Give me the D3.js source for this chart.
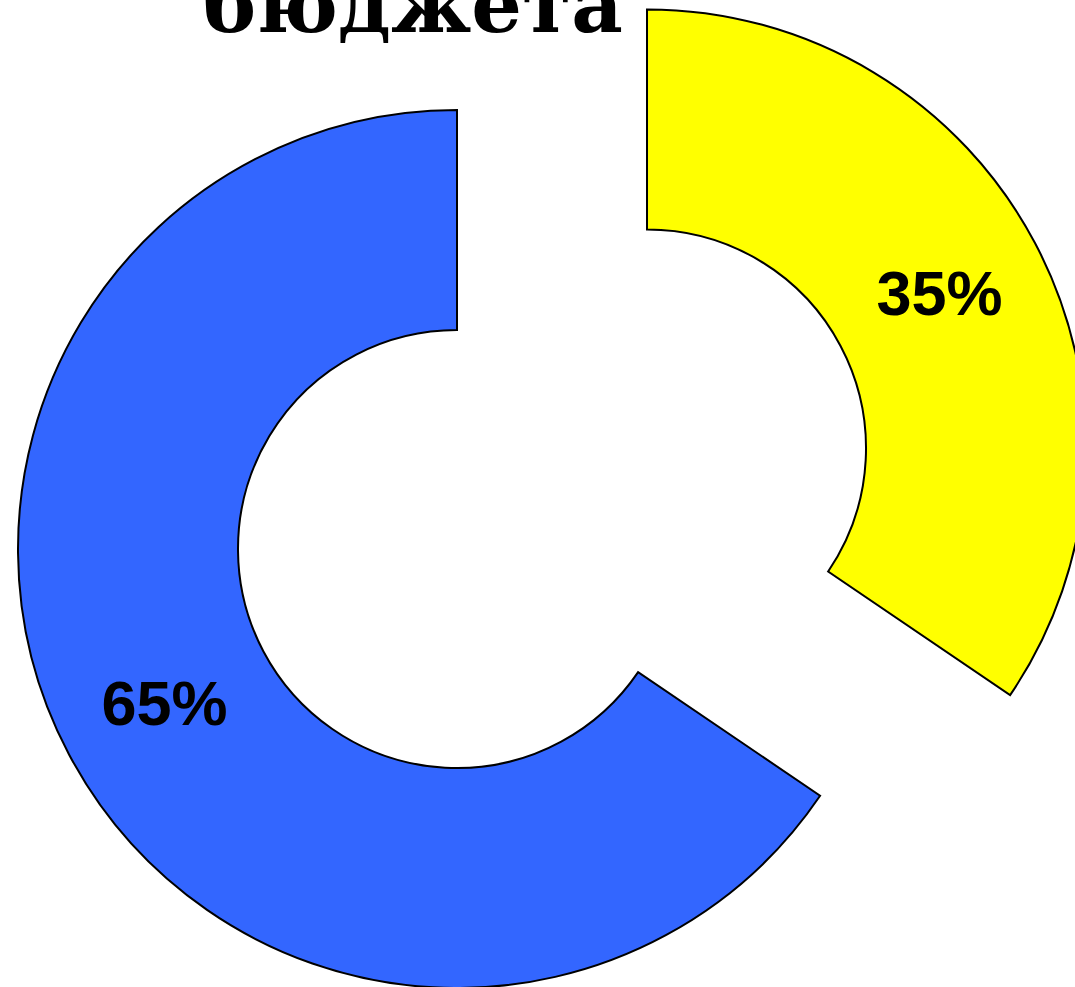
<!DOCTYPE html>
<html>
<head>
<meta charset="utf-8">
<script src="https://cdn.jsdelivr.net/npm/d3@7"></script>
<style>
  html, body { margin: 0; padding: 0; background: #fff; overflow: hidden; }
  svg { display: block; }
</style>
</head>
<body>
<svg id="chart"></svg>
<script>
const width = 1075;
const height = 987;

// title is cut off at the top of the picture
const titleText = "бюджета";
const categories = ["share A", "share B"];
const values = [34.5, 65.5];
const labels = ["35%", "65%"];
const colors = ["#ffff00", "#3366ff"];
const explode = [215, 0];

const svg = d3.select("#chart")
    .attr("width", width)
    .attr("height", height);

svg.append("text")
    .attr("x", 413)
    .attr("y", 32)
    .attr("text-anchor", "middle")
    .attr("font-family", "DejaVu Serif")
    .attr("font-weight", "bold")
    .attr("font-size", 78)
    .attr("textLength", 420)
    .attr("lengthAdjust", "spacingAndGlyphs")
    .text(titleText);

const cx = 457, cy = 549;
const outerR = 439, innerR = 219;

const pie = d3.pie().sort(null).startAngle(0).endAngle(2 * Math.PI);
const arcs = pie(values);

const arc = d3.arc().innerRadius(innerR).outerRadius(outerR);
const labelArc = d3.arc().innerRadius(331).outerRadius(331);

const main_group = svg.append("g").attr("transform", `translate(${cx},${cy})`);

const slices = main_group.selectAll(".slice")
    .data(arcs)
    .enter()
    .append("g")
    .attr("class", "slice")
    .attr("transform", (d, i) => {
        const mid = (d.startAngle + d.endAngle) / 2;
        const dx = Math.sin(mid) * explode[i];
        const dy = -Math.cos(mid) * explode[i];
        return `translate(${dx},${dy})`;
    });

slices.append("path")
    .attr("d", arc)
    .attr("fill", (d, i) => colors[i])
    .attr("stroke", "#000")
    .attr("stroke-width", 2)
    .attr("stroke-linejoin", "miter");

slices.append("text")
    .attr("transform", d => `translate(${labelArc.centroid(d)})`)
    .attr("text-anchor", "middle")
    .attr("dy", "0.34em")
    .attr("font-family", "Liberation Sans, Arial, sans-serif")
    .attr("font-weight", "bold")
    .attr("font-size", 63)
    .attr("fill", "#000")
    .text((d, i) => labels[i]);
</script>
</body>
</html>
